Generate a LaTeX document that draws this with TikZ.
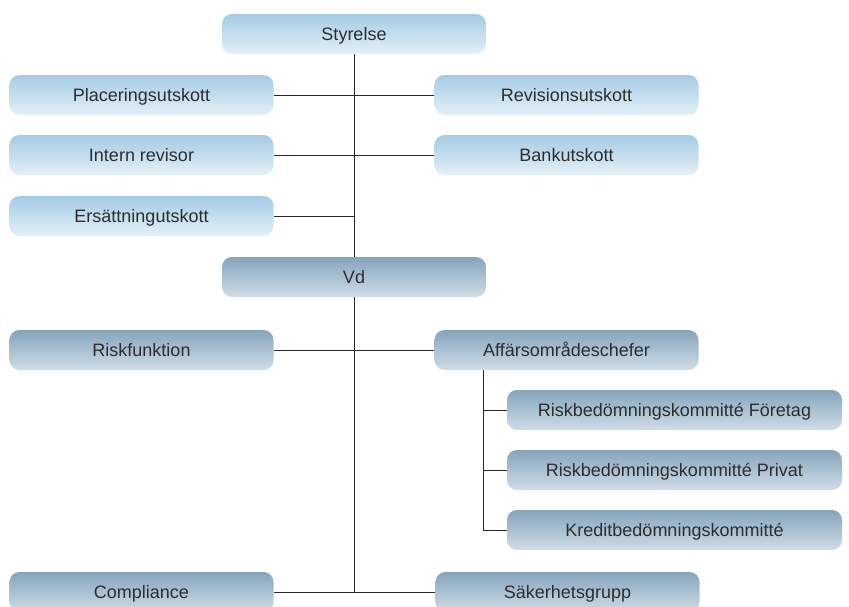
\documentclass[tikz,border=0pt]{standalone}
\usepackage{fontspec}
\setmainfont{Liberation Sans}
\usetikzlibrary{backgrounds}
\definecolor{upTop}{RGB}{164,203,228}
\definecolor{upBot}{RGB}{228,240,248}
\definecolor{dnTop}{RGB}{133,164,188}
\definecolor{dnBot}{RGB}{208,221,231}
\definecolor{txt}{RGB}{45,45,45}
\definecolor{ln}{RGB}{40,40,40}
\tikzset{
  x=1pt,y=-1pt,
  base/.style={rounded corners=10pt, minimum height=40pt, inner sep=0pt, draw=none,
    text=txt, font=\fontsize{18}{20}\selectfont, text height=14pt, text depth=1pt},
  upbox/.style={base, minimum width=264pt, top color=upTop, bottom color=upBot},
  dnbox/.style={base, minimum width=264pt, top color=dnTop, bottom color=dnBot},
  subbox/.style={base, minimum width=335pt, top color=dnTop, bottom color=dnBot},
  conn/.style={draw=ln, line width=1pt}
}
\begin{document}
\begin{tikzpicture}
\useasboundingbox (0,0) rectangle (849,606);
\clip (0,0) rectangle (849,606);
\node[upbox] (sty) at (354,34) {Styrelse};
\node[upbox] (plac) at (141.5,95) {Placeringsutskott};
\node[upbox] (rev) at (566.5,95) {Revisionsutskott};
\node[upbox] (intern) at (141.5,155) {Intern revisor};
\node[upbox] (bank) at (566.5,155) {Bankutskott};
\node[upbox] (ers) at (141.5,216) {Ersättningutskott};
\node[dnbox] (vd) at (354,277) {Vd};
\node[dnbox] (risk) at (141.5,350) {Riskfunktion};
\node[dnbox] (aff) at (566.5,350) {Affärsområdeschefer};
\node[subbox] (rf) at (674.5,410) {Riskbedömningskommitté Företag};
\node[subbox] (rp) at (674.5,470) {Riskbedömningskommitté Privat};
\node[subbox] (kb) at (674.5,530) {Kreditbedömningskommitté};
\node[dnbox] (comp) at (141.5,592) {Compliance};
\node[dnbox] (sak) at (567.5,592) {Säkerhetsgrupp};
\coordinate (trunkEnd) at (sty.south |- comp.east);
\coordinate (subTop) at (483,370);
\coordinate (subEnd) at (subTop |- kb.west);
\begin{pgfonlayer}{background}
\draw[conn] (sty.south) -- (trunkEnd);
\draw[conn] (plac.east) -- (rev.west);
\draw[conn] (intern.east) -- (bank.west);
\draw[conn] (ers.east) -- (ers.east -| sty.south);
\draw[conn] (risk.east) -- (aff.west);
\draw[conn] (comp.east) -- (sak.west);
\draw[conn] (subTop) -- (subEnd);
\draw[conn] (subTop |- rf.west) -- (rf.west);
\draw[conn] (subTop |- rp.west) -- (rp.west);
\draw[conn] (subEnd) -- (kb.west);
\end{pgfonlayer}
\end{tikzpicture}
\end{document}
